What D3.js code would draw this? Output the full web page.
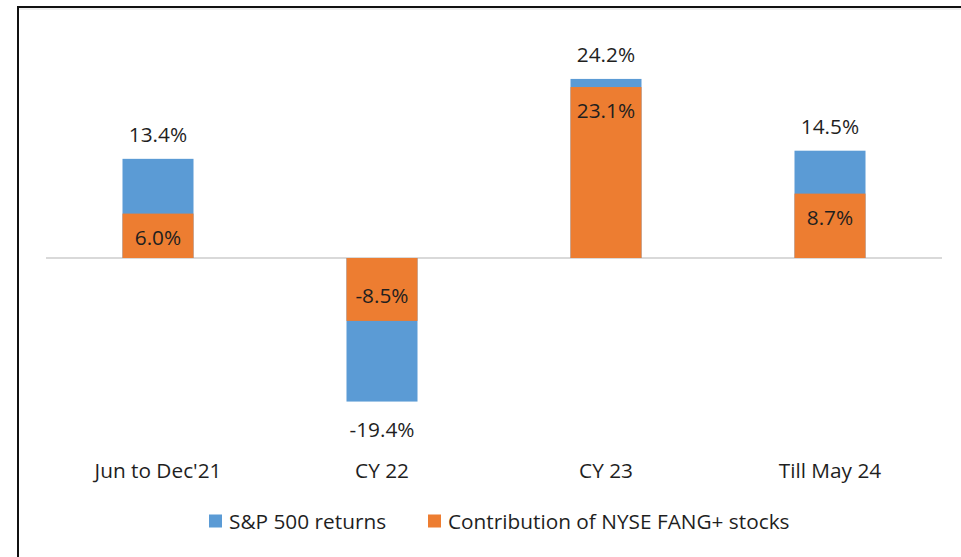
<!DOCTYPE html>
<html lang="en">
<head>
    <meta charset="UTF-8">
    <title>S&P 500 vs FANG+ contribution</title>
    <script src="https://d3js.org/d3.v7.min.js"></script>
    <style>
        body {
            margin: 0;
            background: #fff;
        }
        svg text {
            font-family: "Open Sans", "Noto Sans", sans-serif;
            fill: #1f1f1f;
        }
    </style>
</head>
<body>
    <svg width="961" height="557"></svg>

    <script>
        // chart data
        const categories = ["Jun to Dec'21", "CY 22", "CY 23", "Till May 24"];
        const spReturns = [13.4, -19.4, 24.2, 14.5];
        const fangContribution = [6.0, -8.5, 23.1, 8.7];
        const seriesNames = ["S&P 500 returns", "Contribution of NYSE FANG+ stocks"];

        const blue = "#5B9BD5", orange = "#ED7D31";
        const svg = d3.select("svg");

        // frame (left and top edges of the pasted chart)
        svg.append("line").attr("x1", 18).attr("x2", 961).attr("y1", 7).attr("y2", 7)
            .attr("stroke", "#111").attr("stroke-width", 2);
        svg.append("line").attr("x1", 19).attr("x2", 961).attr("y1", 9).attr("y2", 9)
            .attr("stroke", "#ddd").attr("stroke-width", 1);
        svg.append("line").attr("x1", 18).attr("x2", 18).attr("y1", 6).attr("y2", 557)
            .attr("stroke", "#111").attr("stroke-width", 2);

        const x = d3.scaleBand()
            .domain(categories)
            .range([46, 942])
            .paddingInner(0.683)
            .paddingOuter(0.3415);

        const y = d3.scaleLinear()
            .domain([-20, 30])
            .range([406, 36]);

        const rows = categories.map((c, i) => ({ cat: c, sp: spReturns[i], fang: fangContribution[i] }));
        const fmt = v => v.toFixed(1) + "%";
        const fs = 20.8;

        // zero line
        svg.append("line")
            .attr("x1", x.range()[0]).attr("x2", x.range()[1])
            .attr("y1", y(0)).attr("y2", y(0))
            .attr("stroke", "#d9d9d9").attr("stroke-width", 2);

        // S&P 500 total bars
        svg.append("g").selectAll("rect")
            .data(rows)
            .join("rect")
            .attr("x", d => x(d.cat))
            .attr("width", x.bandwidth())
            .attr("y", d => y(Math.max(0, d.sp)))
            .attr("height", d => Math.abs(y(d.sp) - y(0)))
            .attr("fill", blue);

        // FANG+ contribution bars (overlapping)
        svg.append("g").selectAll("rect")
            .data(rows)
            .join("rect")
            .attr("x", d => x(d.cat))
            .attr("width", x.bandwidth())
            .attr("y", d => y(Math.max(0, d.fang)))
            .attr("height", d => Math.abs(y(d.fang) - y(0)))
            .attr("fill", orange);

        // labels outside the blue bars
        svg.append("g").selectAll("text")
            .data(rows)
            .join("text")
            .attr("x", d => x(d.cat) + x.bandwidth() / 2)
            .attr("y", d => d.sp >= 0 ? y(d.sp) - 25 : y(d.sp) + 27)
            .attr("text-anchor", "middle")
            .attr("dominant-baseline", "central")
            .style("font-size", fs + "px")
            .text(d => fmt(d.sp));

        // labels inside the orange bars
        svg.append("g").selectAll("text")
            .data(rows)
            .join("text")
            .attr("x", d => x(d.cat) + x.bandwidth() / 2)
            .attr("y", d => d.fang >= 0 ? y(d.fang) + 23 : y(d.fang) - 26)
            .attr("text-anchor", "middle")
            .attr("dominant-baseline", "central")
            .style("font-size", fs + "px")
            .text(d => fmt(d.fang));

        // category axis labels
        svg.append("g").selectAll("text")
            .data(categories)
            .join("text")
            .attr("x", d => x(d) + x.bandwidth() / 2)
            .attr("y", 470)
            .attr("text-anchor", "middle")
            .attr("dominant-baseline", "central")
            .style("font-size", fs + "px")
            .text(d => d);

        // legend
        const legendX = [209, 428];
        const legend = svg.append("g").selectAll("g")
            .data(seriesNames)
            .join("g")
            .attr("transform", (d, i) => `translate(${legendX[i]},521)`);
        legend.append("rect")
            .attr("x", 0).attr("y", -6.5)
            .attr("width", 13).attr("height", 13)
            .attr("fill", (d, i) => i === 0 ? blue : orange);
        legend.append("text")
            .attr("x", 20)
            .attr("y", 0)
            .attr("dominant-baseline", "central")
            .style("font-size", fs + "px")
            .text(d => d);
    </script>
</body>
</html>
